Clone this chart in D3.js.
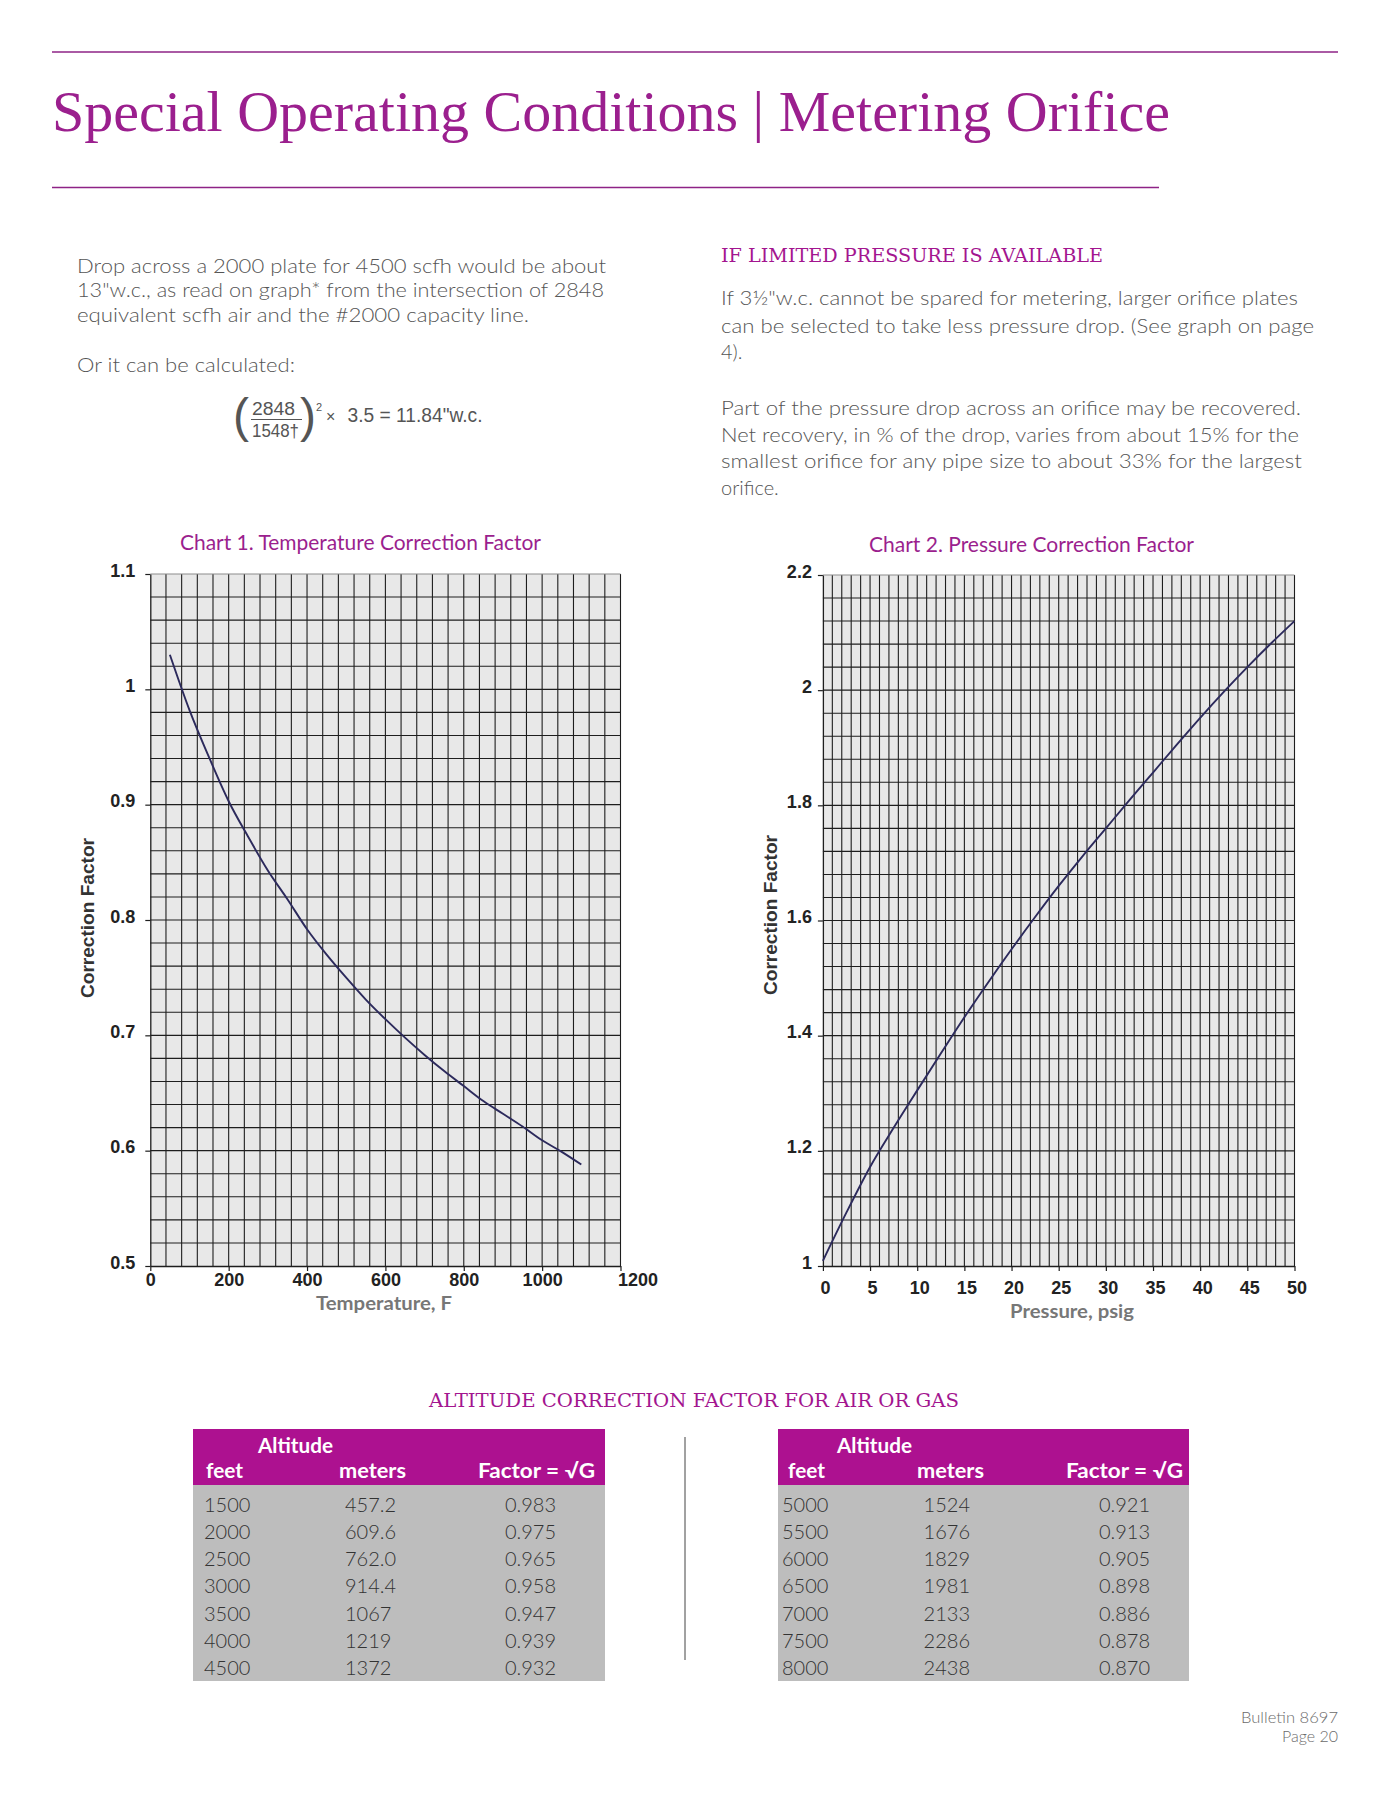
<!DOCTYPE html>
<html>
<head>
<meta charset="utf-8">
<script src="https://cdn.jsdelivr.net/npm/d3@7"></script>
<style>
  html, body { margin: 0; padding: 0; background: #ffffff; }
  svg { display: block; }
</style>
</head>
<body>
<svg id="page" width="1391" height="1800"></svg>
<script>
// ---------------- DATA ----------------
// Chart 1: Temperature correction factor
const tempF = [50, 100, 150, 200, 250, 300, 350, 400, 450, 500, 550, 600, 650, 700, 750, 800, 850, 900, 950, 1000, 1050, 1100];
const tempFactor = [1.030, 0.982, 0.941, 0.903, 0.872, 0.843, 0.818, 0.792, 0.770, 0.750, 0.731, 0.714, 0.698, 0.683, 0.669, 0.656, 0.643, 0.632, 0.621, 0.609, 0.599, 0.588];
const tempXTicks = [0, 200, 400, 600, 800, 1000, 1200];
const tempYTicks = [0.5, 0.6, 0.7, 0.8, 0.9, 1, 1.1];

// Chart 2: Pressure correction factor
const pressurePsig = [0, 2.5, 5, 7.5, 10, 12.5, 15, 17.5, 20, 22.5, 25, 27.5, 30, 32.5, 35, 37.5, 40, 42.5, 45, 47.5, 50];
const pressureFactor = [1.009, 1.093, 1.172, 1.240, 1.305, 1.369, 1.432, 1.492, 1.550, 1.606, 1.660, 1.711, 1.760, 1.809, 1.857, 1.905, 1.952, 1.997, 2.040, 2.081, 2.120];
const presXTicks = [0, 5, 10, 15, 20, 25, 30, 35, 40, 45, 50];
const presYTicks = [1, 1.2, 1.4, 1.6, 1.8, 2, 2.2];

// Altitude tables
const altFeetLeft = ["1500", "2000", "2500", "3000", "3500", "4000", "4500"];
const altMetersLeft = ["457.2", "609.6", "762.0", "914.4", "1067", "1219", "1372"];
const altFactorLeft = ["0.983", "0.975", "0.965", "0.958", "0.947", "0.939", "0.932"];
const altFeetRight = ["5000", "5500", "6000", "6500", "7000", "7500", "8000"];
const altMetersRight = ["1524", "1676", "1829", "1981", "2133", "2286", "2438"];
const altFactorRight = ["0.921", "0.913", "0.905", "0.898", "0.886", "0.878", "0.870"];

// ---------------- STYLE ----------------
const PURPLE_LINE = "#8e2386";
const PURPLE_TEXT = "#9b1f8e";
const PURPLE_HEAD = "#a3158f";
const TABLE_HEAD = "#ad1190";
const TABLE_BODY = "#bdbdbd";
const BODY_TEXT = "#555555";
const SANS = "Lato, 'Open Sans', sans-serif";
const SLAB = "'DejaVu Serif', serif";
const ARIAL = "'Liberation Sans', Arial, sans-serif";

const svg = d3.select("#page");

function txt(g, s, x, y, o) {
  const t = g.append("text").attr("x", x).attr("y", y).text(s)
    .attr("font-family", o.family || SANS)
    .attr("font-size", o.size || 20)
    .attr("font-weight", o.weight || 400)
    .attr("fill", o.fill || BODY_TEXT)
    .attr("text-anchor", o.anchor || "start");
  if (o.len) t.attr("textLength", o.len).attr("lengthAdjust", "spacingAndGlyphs");
  return t;
}

// ---------------- HEADER ----------------
svg.append("line").attr("x1", 52).attr("x2", 1338).attr("y1", 52).attr("y2", 52)
  .attr("stroke", PURPLE_LINE).attr("stroke-width", 1.5);
txt(svg, "Special Operating Conditions | Metering Orifice", 52, 131,
  { family: "'Liberation Serif', serif", size: 56, fill: PURPLE_TEXT, len: 1118 });
svg.append("line").attr("x1", 52).attr("x2", 1159).attr("y1", 187.5).attr("y2", 187.5)
  .attr("stroke", PURPLE_LINE).attr("stroke-width", 1.5);

// ---------------- LEFT TEXT ----------------
const leftLines = [
  ["Drop across a 2000 plate for 4500 scfh would be about", 272.5, 529],
  ["13\"w.c., as read on graph* from the intersection of 2848", 297, 527],
  ["equivalent scfh air and the #2000 capacity line.", 321.5, 452],
  ["Or it can be calculated:", 371.5, 218]
];
leftLines.forEach(l => txt(svg, l[0], 77, l[1], { size: 20, weight: 300, len: l[2] }));

// Formula
const fg = svg.append("g");
txt(fg, "(", 233, 432, { family: ARIAL, size: 48, fill: "#555" });
txt(fg, "2848", 252, 415, { family: ARIAL, size: 18, fill: "#555", len: 43 });
fg.append("line").attr("x1", 251).attr("x2", 302).attr("y1", 419.5).attr("y2", 419.5)
  .attr("stroke", "#555").attr("stroke-width", 1.2);
txt(fg, "1548†", 252, 437, { family: ARIAL, size: 18, fill: "#555", len: 47 });
txt(fg, ")", 300, 432, { family: ARIAL, size: 48, fill: "#555" });
txt(fg, "2", 316, 411, { family: ARIAL, size: 11, fill: "#555" });
txt(fg, "×", 326, 422, { family: ARIAL, size: 16, fill: "#555" });
txt(fg, "3.5 = 11.84\"w.c.", 347.5, 422, { family: ARIAL, size: 19.5, fill: "#555", len: 135 });

// ---------------- RIGHT TEXT ----------------
txt(svg, "IF LIMITED PRESSURE IS AVAILABLE", 721, 261.5,
  { family: SLAB, size: 19, fill: PURPLE_HEAD, len: 382 });
const rightLines = [
  ["If 3½\"w.c. cannot be spared for metering, larger orifice plates", 305, 577],
  ["can be selected to take less pressure drop. (See graph on page", 333, 593],
  ["4).", 359, null],
  ["Part of the pressure drop across an orifice may be recovered.", 415, 580],
  ["Net recovery, in % of the drop, varies from about 15% for the", 441.5, 578],
  ["smallest orifice for any pipe size to about 33% for the largest", 468, 581],
  ["orifice.", 495, null]
];
rightLines.forEach(l => txt(svg, l[0], 721, l[1], { size: 20, weight: 300, len: l[2] }));

// ---------------- CHARTS ----------------
function drawChart(cfg) {
  const g = svg.append("g");
  const x = d3.scaleLinear().domain(cfg.xDomain).range(cfg.xRange);
  const y = d3.scaleLinear().domain(cfg.yDomain).range(cfg.yRange);

  // background
  g.append("rect").attr("x", cfg.xRange[0]).attr("y", cfg.yRange[1])
    .attr("width", cfg.xRange[1] - cfg.xRange[0]).attr("height", cfg.yRange[0] - cfg.yRange[1])
    .attr("fill", "#e8e8e8");

  // grid
  const nx = Math.round((cfg.xDomain[1] - cfg.xDomain[0]) / cfg.xStep);
  const ny = Math.round((cfg.yDomain[1] - cfg.yDomain[0]) / cfg.yStep);
  const gx = d3.range(1, nx + 1).map(i => cfg.xDomain[0] + i * cfg.xStep);
  const gy = d3.range(1, ny).map(i => cfg.yDomain[0] + i * cfg.yStep);
  g.append("g").selectAll("line").data(gx).join("line")
    .attr("x1", d => x(d)).attr("x2", d => x(d))
    .attr("y1", cfg.yRange[0]).attr("y2", cfg.yRange[1])
    .attr("stroke", "#1e1e1e").attr("stroke-width", 1.1);
  g.append("g").selectAll("line").data(gy).join("line")
    .attr("x1", cfg.xRange[0]).attr("x2", cfg.xRange[1])
    .attr("y1", d => y(d)).attr("y2", d => y(d))
    .attr("stroke", "#1e1e1e").attr("stroke-width", 1.1);
  // top border (lighter)
  g.append("line").attr("x1", cfg.xRange[0]).attr("x2", cfg.xRange[1])
    .attr("y1", cfg.yRange[1]).attr("y2", cfg.yRange[1])
    .attr("stroke", "#8c8c8c").attr("stroke-width", 1.2);

  // axes
  const ay = g.append("g").attr("transform", `translate(${cfg.xRange[0]},0)`)
    .call(d3.axisLeft(y).tickValues(cfg.yTicks).tickSize(5).tickSizeOuter(0).tickFormat(d => String(d)));
  const ax = g.append("g").attr("transform", `translate(0,${cfg.yRange[0]})`)
    .call(d3.axisBottom(x).tickValues(cfg.xTicks).tickSize(5).tickSizeOuter(0).tickFormat(d => String(d)));
  [ay, ax].forEach(a => {
    a.select(".domain").attr("stroke", "#1e1e1e").attr("stroke-width", 1.3);
    a.selectAll(".tick line").attr("stroke", "#1e1e1e").attr("stroke-width", 1.2);
    a.selectAll("text").attr("font-family", ARIAL).attr("font-weight", 700)
      .attr("font-size", 18).attr("fill", "#222");
  });
  ay.selectAll("text").attr("x", -cfg.yLabelGap).attr("dy", "0").attr("y", 2);
  ax.selectAll("text").attr("dy", "0").attr("y", cfg.xLabelY).attr("dx", cfg.xLabelDx);
  if (cfg.lastLabelStart) {
    ax.selectAll(".tick").filter(d => d === cfg.xDomain[1]).select("text")
      .attr("text-anchor", "start").attr("dx", -3);
  }

  // curve
  const pts = cfg.xs.map((v, i) => [v, cfg.ys[i]]);
  g.append("path").datum(pts)
    .attr("fill", "none").attr("stroke", "#2c2a5c").attr("stroke-width", 1.9)
    .attr("d", d3.line().x(d => x(d[0])).y(d => y(d[1])).curve(d3.curveMonotoneX));

  // titles
  txt(g, cfg.title, cfg.titleX, cfg.titleY, { size: 21, fill: PURPLE_TEXT, anchor: "middle", len: cfg.titleLen });
  txt(g, cfg.xTitle, cfg.xTitleX, cfg.xTitleY, { size: 18, weight: 700, fill: "#777", anchor: "middle", len: cfg.xTitleLen });
  g.append("text").attr("transform", `translate(${cfg.yTitleX},${cfg.yTitleY}) rotate(-90)`)
    .attr("text-anchor", "middle").attr("font-family", ARIAL).attr("font-weight", 700)
    .attr("font-size", 19).attr("fill", "#333")
    .attr("textLength", 160).attr("lengthAdjust", "spacingAndGlyphs")
    .text("Correction Factor");
}

drawChart({
  xDomain: [0, 1200], yDomain: [0.5, 1.1],
  xRange: [150.3, 620.5], yRange: [1266, 574],
  xStep: 40, yStep: 0.02,
  xTicks: tempXTicks, yTicks: tempYTicks,
  xs: tempF, ys: tempFactor,
  yLabelGap: 15, xLabelY: 20, xLabelDx: 0, lastLabelStart: true,
  title: "Chart 1. Temperature Correction Factor", titleX: 360.5, titleY: 550, titleLen: 361,
  xTitle: "Temperature, F", xTitleX: 384, xTitleY: 1310, xTitleLen: 136,
  yTitleX: 94, yTitleY: 918
});

drawChart({
  xDomain: [0, 50], yDomain: [1, 2.2],
  xRange: [822.9, 1294.5], yRange: [1266, 575],
  xStep: 1, yStep: 0.04,
  xTicks: presXTicks, yTicks: presYTicks,
  xs: pressurePsig, ys: pressureFactor,
  yLabelGap: 11, xLabelY: 28, xLabelDx: 2, lastLabelStart: false,
  title: "Chart 2. Pressure Correction Factor", titleX: 1031.5, titleY: 551.5, titleLen: 325,
  xTitle: "Pressure, psig", xTitleX: 1072, xTitleY: 1318, xTitleLen: 124,
  yTitleX: 777, yTitleY: 915
});

// ---------------- ALTITUDE TABLES ----------------
txt(svg, "ALTITUDE CORRECTION FACTOR FOR AIR OR GAS", 429, 1407,
  { family: SLAB, size: 19, fill: PURPLE_HEAD, len: 530 });

function drawTable(t) {
  const g = svg.append("g");
  g.append("rect").attr("x", t.x0).attr("y", 1429).attr("width", t.x1 - t.x0).attr("height", 56).attr("fill", TABLE_HEAD);
  g.append("rect").attr("x", t.x0).attr("y", 1485).attr("width", t.x1 - t.x0).attr("height", 196).attr("fill", TABLE_BODY);
  const H = { size: 20, weight: 700, fill: "#ffffff" };
  txt(g, "Altitude", t.altX, 1452.7, Object.assign({ len: 75 }, H));
  txt(g, "feet", t.feetHX, 1478, Object.assign({ len: 37 }, H));
  txt(g, "meters", t.metHX, 1478, Object.assign({ len: 67 }, H));
  txt(g, "Factor = √G", t.facHX, 1478, Object.assign({ len: 117 }, H));
  const rowY = d3.scaleLinear().domain([0, 6]).range([1511.7, 1675]);
  t.feet.forEach((v, i) => txt(g, v, t.feetX, rowY(i), { size: 20, weight: 300, fill: "#333" }));
  t.meters.forEach((v, i) => txt(g, v, t.metX, rowY(i), { size: 20, weight: 300, fill: "#333", anchor: t.metAnchor }));
  t.factor.forEach((v, i) => txt(g, v, t.facX, rowY(i), { size: 20, weight: 300, fill: "#333" }));
}
drawTable({
  x0: 193, x1: 605, altX: 258, feetHX: 206, metHX: 339, facHX: 478,
  feetX: 204, metX: 345, metAnchor: "start", facX: 505,
  feet: altFeetLeft, meters: altMetersLeft, factor: altFactorLeft
});
drawTable({
  x0: 778, x1: 1189, altX: 837, feetHX: 788, metHX: 917, facHX: 1066,
  feetX: 782, metX: 970, metAnchor: "end", facX: 1099,
  feet: altFeetRight, meters: altMetersRight, factor: altFactorRight
});
svg.append("line").attr("x1", 685).attr("x2", 685).attr("y1", 1437).attr("y2", 1660)
  .attr("stroke", "#444").attr("stroke-width", 1);

// ---------------- FOOTER ----------------
txt(svg, "Bulletin 8697", 1338, 1722.7, { size: 16, weight: 300, fill: "#6b6b6b", anchor: "end", len: 97 });
txt(svg, "Page 20", 1338, 1741.7, { size: 16, weight: 300, fill: "#6b6b6b", anchor: "end" });
</script>
</body>
</html>
